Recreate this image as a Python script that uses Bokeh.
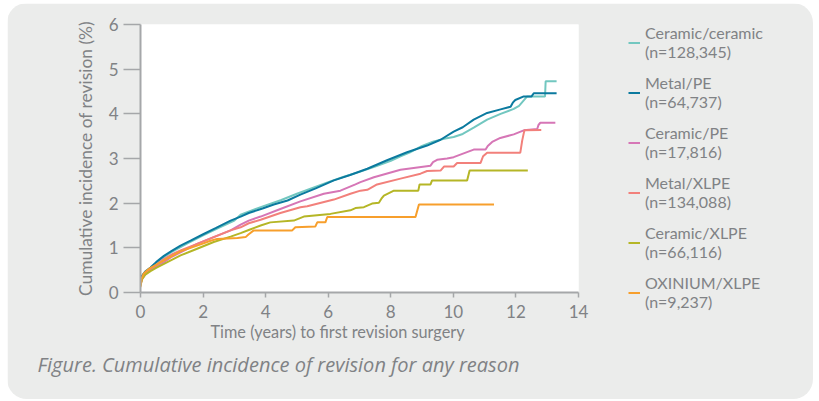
from bokeh.plotting import figure
from bokeh.models import Legend, LegendItem, Title, FixedTicker, Range1d
from bokeh.embed import file_html
from bokeh.resources import INLINE

# ---- data ----
series_names = ["Ceramic/ceramic", "Metal/PE", "Ceramic/PE", "Metal/XLPE", "Ceramic/XLPE", "OXINIUM/XLPE"]
series_n = ["128,345", "64,737", "17,816", "134,088", "66,116", "9,237"]
series_colors = ["#72c7c0", "#0b7a9f", "#d676b6", "#f2807b", "#b5b626", "#f79f2c"]

cc_x = [0, 0.05, 0.15, 0.32, 0.5, 0.75, 1.0, 1.5, 2.0, 2.5, 3.0, 3.2, 3.6, 4.0, 4.5, 5.0, 5.5, 6.0, 6.5, 7.0, 7.5, 8.0, 8.31, 8.6, 9.0, 9.37, 9.7, 10.01, 10.3, 10.65, 11.08, 11.51, 11.93, 12.1, 12.25, 12.36, 12.93, 12.95, 13.3]
cc_y = [0.20, 0.33, 0.44, 0.55, 0.65, 0.79, 0.91, 1.10, 1.28, 1.45, 1.61, 1.74, 1.85, 1.95, 2.07, 2.21, 2.34, 2.47, 2.59, 2.70, 2.82, 2.95, 3.05, 3.13, 3.28, 3.38, 3.44, 3.48, 3.55, 3.69, 3.87, 4.00, 4.11, 4.18, 4.30, 4.39, 4.39, 4.73, 4.73]

mpe_x = [0, 0.05, 0.15, 0.32, 0.5, 0.75, 1.0, 1.28, 1.6, 2.02, 2.4, 2.88, 3.2, 3.46, 3.9, 4.26, 4.7, 5.11, 5.6, 6.18, 6.7, 7.25, 7.88, 8.52, 9.16, 9.59, 10.01, 10.3, 10.65, 11.08, 11.51, 11.83, 11.9, 11.98, 12.25, 12.5, 12.57, 13.3]
mpe_y = [0.30, 0.38, 0.47, 0.56, 0.68, 0.82, 0.93, 1.05, 1.16, 1.31, 1.44, 1.61, 1.70, 1.78, 1.88, 1.97, 2.06, 2.19, 2.33, 2.51, 2.63, 2.77, 2.96, 3.14, 3.29, 3.42, 3.60, 3.70, 3.87, 4.02, 4.10, 4.16, 4.25, 4.31, 4.39, 4.39, 4.46, 4.46]

cpe_x = [0, 0.05, 0.15, 0.32, 0.5, 0.75, 1.0, 1.28, 1.81, 2.34, 2.88, 3.2, 3.46, 3.84, 4.47, 5.11, 5.86, 6.39, 6.87, 7.03, 7.46, 8.31, 9.27, 9.35, 9.48, 9.8, 10.01, 10.65, 11.03, 11.1, 11.24, 11.5, 11.93, 12.25, 12.68, 12.72, 12.78, 13.26]
cpe_y = [0.18, 0.30, 0.40, 0.50, 0.58, 0.68, 0.80, 0.90, 1.09, 1.24, 1.39, 1.52, 1.61, 1.70, 1.87, 2.04, 2.21, 2.28, 2.42, 2.47, 2.58, 2.75, 2.84, 2.92, 2.97, 3.00, 3.03, 3.20, 3.20, 3.28, 3.37, 3.46, 3.54, 3.63, 3.66, 3.75, 3.80, 3.80]

mx_x = [0, 0.05, 0.15, 0.32, 0.5, 0.75, 1.0, 1.28, 1.81, 2.34, 2.88, 3.2, 3.46, 3.84, 4.47, 5.11, 5.33, 6.18, 6.71, 7.03, 7.25, 7.56, 8.31, 8.95, 9.16, 9.59, 9.7, 10.01, 10.12, 10.87, 10.95, 11.08, 12.14, 12.2, 12.27, 12.81]
mx_y = [0.18, 0.32, 0.42, 0.53, 0.62, 0.75, 0.85, 0.94, 1.09, 1.24, 1.39, 1.46, 1.55, 1.63, 1.78, 1.91, 1.93, 2.08, 2.21, 2.28, 2.30, 2.42, 2.55, 2.66, 2.72, 2.73, 2.82, 2.82, 2.90, 2.90, 3.05, 3.13, 3.13, 3.40, 3.63, 3.64]

cx_x = [0, 0.05, 0.15, 0.32, 0.5, 0.75, 1.28, 1.81, 2.34, 2.88, 3.2, 3.46, 3.84, 4.15, 4.9, 5.22, 6.07, 6.71, 6.87, 7.14, 7.40, 7.62, 7.7, 7.78, 8.1, 8.88, 8.92, 9.27, 9.32, 10.44, 10.52, 12.38]
cx_y = [0.15, 0.30, 0.40, 0.48, 0.55, 0.64, 0.83, 0.98, 1.13, 1.25, 1.33, 1.40, 1.50, 1.57, 1.61, 1.70, 1.76, 1.84, 1.89, 1.91, 1.99, 2.01, 2.10, 2.17, 2.28, 2.28, 2.42, 2.42, 2.51, 2.51, 2.73, 2.73]

ox_x = [0, 0.03, 0.1, 0.2, 0.32, 0.5, 0.75, 1.28, 1.81, 2.24, 2.45, 3.1, 3.36, 3.45, 3.62, 4.85, 4.95, 5.59, 5.65, 5.91, 5.97, 8.79, 8.9, 11.3]
ox_y = [0.12, 0.30, 0.42, 0.49, 0.55, 0.62, 0.72, 0.92, 1.05, 1.16, 1.20, 1.22, 1.24, 1.30, 1.39, 1.39, 1.46, 1.48, 1.57, 1.57, 1.69, 1.69, 1.97, 1.97]

series_x = [cc_x, mpe_x, cpe_x, mx_x, cx_x, ox_x]
series_y = [cc_y, mpe_y, cpe_y, mx_y, cx_y, ox_y]

x_ticks = [0, 2, 4, 6, 8, 10, 12, 14]
y_ticks = [0, 1, 2, 3, 4, 5, 6]

FONT = "Lato"
TXT = "#808285"
AX = "#a5a7a9"
BG = "#ebeceb"

p = figure(frame_width=438, frame_height=268, output_backend="svg", toolbar_location=None,
           x_range=Range1d(0, 14), y_range=Range1d(0, 6),
           min_border_left=133, min_border_right=235, min_border_top=21, min_border_bottom=107)
p.background_fill_color = "white"
p.border_fill_color = BG
p.outline_line_color = None
p.grid.visible = False
p.styles = {"margin-left": "7px", "margin-top": "3px", "max-width": "806px", "max-height": "396px",
            "border-radius": "20px", "overflow": "hidden"}

for ax in (p.xaxis[0], p.yaxis[0]):
    ax.axis_line_color = AX
    ax.axis_line_width = 2
    ax.major_tick_line_color = AX
    ax.major_tick_line_width = 1.5
    ax.major_tick_in = 0
    ax.minor_tick_line_color = None
    ax.major_label_text_font = FONT
    ax.major_label_text_font_size = "17px"
    ax.major_label_text_color = TXT
    ax.axis_label_text_font = FONT
    ax.axis_label_text_font_style = "normal"
    ax.axis_label_text_color = TXT

p.xaxis.ticker = FixedTicker(ticks=x_ticks)
p.yaxis.ticker = FixedTicker(ticks=y_ticks)
p.xaxis.major_tick_out = 5
p.yaxis.major_tick_out = 17
p.xaxis.major_label_standoff = 7
p.yaxis.major_label_standoff = 5
p.yaxis.axis_label = "Cumulative incidence of revision (%)"
p.yaxis.axis_label_text_font_size = "17.4px"
p.yaxis.axis_label_standoff = 10

items = []
for name, n, col, xs, ys in zip(series_names, series_n, series_colors, series_x, series_y):
    r = p.line(xs, ys, line_color=col, line_width=2)
    items.append(LegendItem(label=f"{name}\n(n={n})", renderers=[r]))

legend = Legend(items=items, location=(50, -19), orientation="vertical",
                label_text_font=FONT, label_text_font_size="16px", label_text_color=TXT,
                label_text_line_height=1.25,
                glyph_width=12, glyph_height=19, label_standoff=5, spacing=12,
                padding=0, margin=0, border_line_color=None, background_fill_alpha=0)
p.add_layout(legend, "right")

x_title = Title(text="Time (years) to first revision surgery",
                align="left", offset=70, vertical_align="middle", standoff=0,
                text_font=FONT, text_font_style="normal", text_font_size="16.3px",
                text_color=TXT)
p.add_layout(x_title, "below")

caption = Title(text="Figure. Cumulative incidence of revision for any reason",
                align="left", offset=-103, vertical_align="middle", standoff=17,
                text_font="Open Sans", text_font_style="italic",
                text_font_size="20px", text_color=TXT)
p.add_layout(caption, "below")

open("out.html", "w").write(file_html(p, INLINE))
